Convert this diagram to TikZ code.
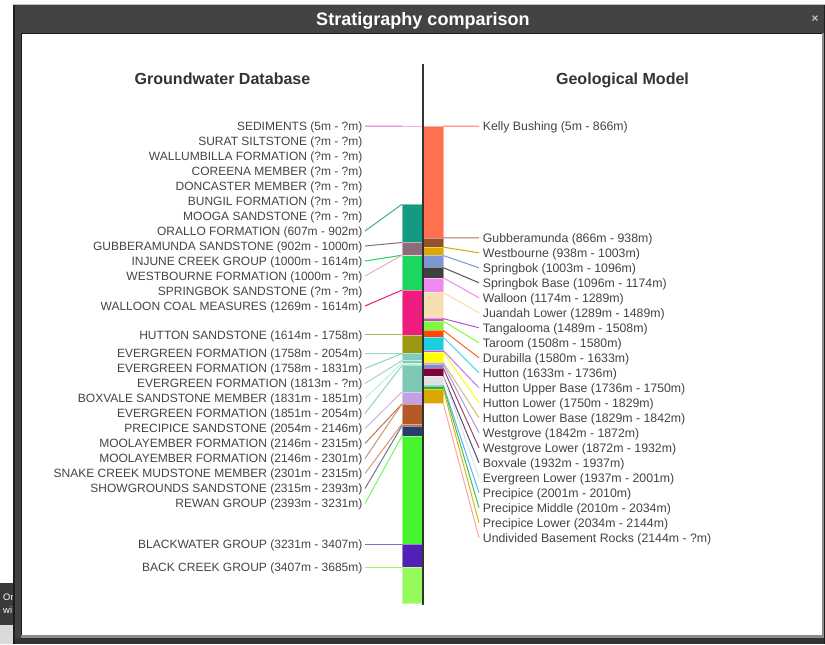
\documentclass[tikz,border=0pt]{standalone}
\usepackage{fontspec}
\setmainfont{Liberation Sans}
\usetikzlibrary{positioning}
\newcommand{\depy}[1]{125.5+0.1297*#1}
% window
\definecolor{winDark}{HTML}{434343}
\definecolor{winEdge}{HTML}{1E1E1E}
\definecolor{tipDark}{HTML}{3A3A3A}
\definecolor{txtGray}{HTML}{444444}
\definecolor{hdrGray}{HTML}{333333}
\definecolor{axisGray}{HTML}{333333}
% groundwater database
\definecolor{cSed}{HTML}{F060D0}
\definecolor{cOra}{HTML}{139A80}
\definecolor{cGubS}{HTML}{8D6E78}
\definecolor{cInj}{HTML}{1BD760}
\definecolor{cWesF}{HTML}{F0A8C8}
\definecolor{cWalCM}{HTML}{EE1C7E}
\definecolor{cHutS}{HTML}{9B9713}
\definecolor{cEvgA}{HTML}{7DC9B5}
\definecolor{cEvgB}{HTML}{80CCB8}
\definecolor{cEvgC}{HTML}{9ED8C8}
\definecolor{cBoxM}{HTML}{B8F2DA}
\definecolor{cEvgD}{HTML}{7DC9B5}
\definecolor{cPreS}{HTML}{C3A0E3}
\definecolor{cMooA}{HTML}{B0531F}
\definecolor{cMooB}{HTML}{B45A28}
\definecolor{cSnk}{HTML}{C86A38}
\definecolor{cShw}{HTML}{283E6C}
\definecolor{cRew}{HTML}{46F52E}
\definecolor{cBlk}{HTML}{5320B5}
\definecolor{cBck}{HTML}{96FA5C}
% geological model
\definecolor{cKel}{HTML}{FF7050}
\definecolor{cGub}{HTML}{98502C}
\definecolor{cWes}{HTML}{DDA800}
\definecolor{cSpr}{HTML}{7B96D2}
\definecolor{cSprB}{HTML}{404040}
\definecolor{cWal}{HTML}{F08AF0}
\definecolor{cJua}{HTML}{F6DEB2}
\definecolor{cTan}{HTML}{C050C8}
\definecolor{cTar}{HTML}{80F840}
\definecolor{cDur}{HTML}{FF4800}
\definecolor{cHut}{HTML}{1ACFE0}
\definecolor{cHutU}{HTML}{B060E0}
\definecolor{cHutL}{HTML}{FFFF00}
\definecolor{cHutLB}{HTML}{D4B880}
\definecolor{cWgr}{HTML}{8A88C8}
\definecolor{cWgrL}{HTML}{800040}
\definecolor{cBox}{HTML}{505070}
\definecolor{cEvgL}{HTML}{E0E0E0}
\definecolor{cPre}{HTML}{40A8FF}
\definecolor{cPreM}{HTML}{20B820}
\definecolor{cPreL}{HTML}{DAA600}
\definecolor{cUnd}{HTML}{FFA898}

\begin{document}
\begin{tikzpicture}[
    x=0.03cm, y=-0.03cm,
    lblL/.style={anchor=east, inner xsep=0.07cm, inner ysep=0pt, text height=7.4pt, text depth=0pt, text=txtGray, font=\fontsize{10.25pt}{12pt}\selectfont},
    lblR/.style={lblL, anchor=west, inner xsep=0.11cm, text height=7.6pt, font=\fontsize{10.5pt}{12pt}\selectfont},
    hdr/.style={font=\bfseries\fontsize{13.7pt}{15pt}\selectfont, text=hdrGray, inner sep=0pt, text height=9.8pt, text depth=0pt},
    lay/.style 2 args={rectangle, inner sep=0pt, outer sep=0pt, anchor=north west, minimum width=0.6cm, minimum height={0.1297*(#2-#1)*0.03cm}, line width=0.015cm},
    con/.style={line width=0.03cm}
]
\useasboundingbox (0,0) rectangle (825,644);
\fill[white] (0,0) rectangle (825,644);

% tooltip behind the dialog
\fill[tipDark] (0,583) rectangle (13,625);
\fill[black!15] (0,625) rectangle (13,644);
\node[anchor=west, inner sep=0pt, text=white, font=\fontsize{8pt}{9pt}\selectfont] (tipA) at (3,597) {Or};
\node[anchor=west, inner sep=0pt, text=white, font=\fontsize{8pt}{9pt}\selectfont] (tipB) at (3,610) {wi};

% dialog window
\fill[winEdge] (13,4) rectangle (825,644);
\draw[black!25, line width=0.03cm] (13,4.5) -- (825,4.5);
\fill[winDark] (15,5) rectangle (823.5,644);
\fill[black!80] (15,638) rectangle (823.5,644);
\fill[black!45] (21,33) rectangle (823.5,638);
\fill[black!90] (21,33) rectangle (822,635);
\fill[white] (22,34) rectangle (822,635);

\node[font=\bfseries\fontsize{15.4pt}{17pt}\selectfont, text=white, inner sep=0pt, text height=11pt, text depth=0pt] (title) at (423,19.5) {Stratigraphy comparison};
\node[font=\bfseries\fontsize{10pt}{11pt}\selectfont, text=black!22, inner sep=0pt] (close) at (815,19) {×};

\node[hdr] (gwHead) at (222.5,79) {Groundwater Database};
\node[hdr] (gmHead) at (622.5,79) {Geological Model};

% groundwater database column
\node[lay={5}{5}, fill=cSed, draw=cSed!55!white] (bSed) at (402,{\depy{5}}) {};
\node[lay={607}{902}, fill=cOra, draw=cOra!55!white] (bOra) at (402,{\depy{607}}) {};
\node[lay={902}{1000}, fill=cGubS, draw=cGubS!55!white] (bGubS) at (402,{\depy{902}}) {};
\node[lay={1000}{1614}, fill=cInj, draw=cInj!55!white] (bInj) at (402,{\depy{1000}}) {};
\node[lay={1000}{1000}, fill=cWesF, draw=cWesF!55!white] (bWesF) at (402,{\depy{1000}}) {};
\node[lay={1269}{1614}, fill=cWalCM, draw=cWalCM!55!white] (bWalCM) at (402,{\depy{1269}}) {};
\node[lay={1614}{1758}, fill=cHutS, draw=cHutS!55!white] (bHutS) at (402,{\depy{1614}}) {};
\node[lay={1758}{2054}, fill=cEvgA, draw=cEvgA!55!white] (bEvgA) at (402,{\depy{1758}}) {};
\node[lay={1758}{1831}, fill=cEvgB, draw=cEvgB!55!white] (bEvgB) at (402,{\depy{1758}}) {};
\node[lay={1813}{1813}, fill=cEvgC, draw=cEvgC!55!white] (bEvgC) at (402,{\depy{1813}}) {};
\node[lay={1831}{1851}, fill=cBoxM, draw=cBoxM!55!white] (bBoxM) at (402,{\depy{1831}}) {};
\node[lay={1851}{2054}, fill=cEvgD, draw=cEvgD!55!white] (bEvgD) at (402,{\depy{1851}}) {};
\node[lay={2054}{2146}, fill=cPreS, draw=cPreS!55!white] (bPreS) at (402,{\depy{2054}}) {};
\node[lay={2146}{2315}, fill=cMooA, draw=cMooA!55!white] (bMooA) at (402,{\depy{2146}}) {};
\node[lay={2146}{2301}, fill=cMooB, draw=cMooB!55!white] (bMooB) at (402,{\depy{2146}}) {};
\node[lay={2301}{2315}, fill=cSnk, draw=cSnk!55!white] (bSnk) at (402,{\depy{2301}}) {};
\node[lay={2315}{2393}, fill=cShw, draw=cShw!55!white] (bShw) at (402,{\depy{2315}}) {};
\node[lay={2393}{3231}, fill=cRew, draw=cRew!55!white] (bRew) at (402,{\depy{2393}}) {};
\node[lay={3231}{3407}, fill=cBlk, draw=cBlk!55!white] (bBlk) at (402,{\depy{3231}}) {};
\node[lay={3407}{3685}, fill=cBck, draw=cBck!55!white] (bBck) at (402,{\depy{3407}}) {};

% geological model column
\node[lay={5}{866}, fill=cKel, draw=cKel!55!white] (bKel) at (423.3,{\depy{5}}) {};
\node[lay={866}{938}, fill=cGub, draw=cGub!55!white] (bGub) at (423.3,{\depy{866}}) {};
\node[lay={938}{1003}, fill=cWes, draw=cWes!55!white] (bWes) at (423.3,{\depy{938}}) {};
\node[lay={1003}{1096}, fill=cSpr, draw=cSpr!55!white] (bSpr) at (423.3,{\depy{1003}}) {};
\node[lay={1096}{1174}, fill=cSprB, draw=cSprB!55!white] (bSprB) at (423.3,{\depy{1096}}) {};
\node[lay={1174}{1289}, fill=cWal, draw=cWal!55!white] (bWal) at (423.3,{\depy{1174}}) {};
\node[lay={1289}{1489}, fill=cJua, draw=cJua!55!white] (bJua) at (423.3,{\depy{1289}}) {};
\node[lay={1489}{1508}, fill=cTan, draw=cTan!55!white] (bTan) at (423.3,{\depy{1489}}) {};
\node[lay={1508}{1580}, fill=cTar, draw=cTar!55!white] (bTar) at (423.3,{\depy{1508}}) {};
\node[lay={1580}{1633}, fill=cDur, draw=cDur!55!white] (bDur) at (423.3,{\depy{1580}}) {};
\node[lay={1633}{1736}, fill=cHut, draw=cHut!55!white] (bHut) at (423.3,{\depy{1633}}) {};
\node[lay={1736}{1750}, fill=cHutU, draw=cHutU!55!white] (bHutU) at (423.3,{\depy{1736}}) {};
\node[lay={1750}{1829}, fill=cHutL, draw=cHutL!55!white] (bHutL) at (423.3,{\depy{1750}}) {};
\node[lay={1829}{1842}, fill=cHutLB, draw=cHutLB!55!white] (bHutLB) at (423.3,{\depy{1829}}) {};
\node[lay={1842}{1872}, fill=cWgr, draw=cWgr!55!white] (bWgr) at (423.3,{\depy{1842}}) {};
\node[lay={1872}{1932}, fill=cWgrL, draw=cWgrL!55!white] (bWgrL) at (423.3,{\depy{1872}}) {};
\node[lay={1932}{1937}, fill=cBox, draw=cBox!55!white] (bBox) at (423.3,{\depy{1932}}) {};
\node[lay={1937}{2001}, fill=cEvgL, draw=cEvgL!55!white] (bEvgL) at (423.3,{\depy{1937}}) {};
\node[lay={2001}{2010}, fill=cPre, draw=cPre!55!white] (bPre) at (423.3,{\depy{2001}}) {};
\node[lay={2010}{2034}, fill=cPreM, draw=cPreM!55!white] (bPreM) at (423.3,{\depy{2010}}) {};
\node[lay={2034}{2144}, fill=cPreL, draw=cPreL!55!white] (bPreL) at (423.3,{\depy{2034}}) {};
\node[lay={2144}{2144}, fill=cUnd, draw=cUnd!55!white] (bUnd) at (423.3,{\depy{2144}}) {};

% axis between the columns
\coordinate (axisTop) at (422.7,64);
\coordinate (axisBot) at (422.7,605);
\draw[axisGray, line width=0.06cm] (axisTop) -- (axisBot);

% groundwater database labels
\node[lblL] (gwSed) at (365,126) {SEDIMENTS (5m - ?m)};
\node[lblL] (gwSur) at (365,141) {SURAT SILTSTONE (?m - ?m)};
\node[lblL] (gwWab) at (365,156) {WALLUMBILLA FORMATION (?m - ?m)};
\node[lblL] (gwCor) at (365,171) {COREENA MEMBER (?m - ?m)};
\node[lblL] (gwDon) at (365,186) {DONCASTER MEMBER (?m - ?m)};
\node[lblL] (gwBun) at (365,201) {BUNGIL FORMATION (?m - ?m)};
\node[lblL] (gwMoo) at (365,216) {MOOGA SANDSTONE (?m - ?m)};
\node[lblL] (gwOra) at (365,231) {ORALLO FORMATION (607m - 902m)};
\node[lblL] (gwGubS) at (365,246) {GUBBERAMUNDA SANDSTONE (902m - 1000m)};
\node[lblL] (gwInj) at (365,261) {INJUNE CREEK GROUP (1000m - 1614m)};
\node[lblL] (gwWesF) at (365,276) {WESTBOURNE FORMATION (1000m - ?m)};
\node[lblL] (gwSprS) at (365,291) {SPRINGBOK SANDSTONE (?m - ?m)};
\node[lblL] (gwWalCM) at (365,306) {WALLOON COAL MEASURES (1269m - 1614m)};
\node[lblL] (gwHutS) at (365,{\depy{1614}}) {HUTTON SANDSTONE (1614m - 1758m)};
\node[lblL] (gwEvgA) at (365,353.5) {EVERGREEN FORMATION (1758m - 2054m)};
\node[lblL] (gwEvgB) at (365,368.5) {EVERGREEN FORMATION (1758m - 1831m)};
\node[lblL] (gwEvgC) at (365,383.5) {EVERGREEN FORMATION (1813m - ?m)};
\node[lblL] (gwBoxM) at (365,398.5) {BOXVALE SANDSTONE MEMBER (1831m - 1851m)};
\node[lblL] (gwEvgD) at (365,413.5) {EVERGREEN FORMATION (1851m - 2054m)};
\node[lblL] (gwPreS) at (365,428.5) {PRECIPICE SANDSTONE (2054m - 2146m)};
\node[lblL] (gwMooA) at (365,443.5) {MOOLAYEMBER FORMATION (2146m - 2315m)};
\node[lblL] (gwMooB) at (365,458.5) {MOOLAYEMBER FORMATION (2146m - 2301m)};
\node[lblL] (gwSnk) at (365,473.5) {SNAKE CREEK MUDSTONE MEMBER (2301m - 2315m)};
\node[lblL] (gwShw) at (365,488.5) {SHOWGROUNDS SANDSTONE (2315m - 2393m)};
\node[lblL] (gwRew) at (365,503.5) {REWAN GROUP (2393m - 3231m)};
\node[lblL] (gwBlk) at (365,{\depy{3231}}) {BLACKWATER GROUP (3231m - 3407m)};
\node[lblL] (gwBck) at (365,{\depy{3407}}) {BACK CREEK GROUP (3407m - 3685m)};

\draw[con, cSed] (gwSed.east) -- (bSed.north west);
\draw[con, cOra!80!white] (gwOra.east) -- (bOra.north west);
\draw[con, cGubS] (gwGubS.east) -- (bGubS.north west);
\draw[con, cInj] (gwInj.east) -- (bInj.north west);
\draw[con, cWesF] (gwWesF.east) -- (bWesF.north west);
\draw[con, cWalCM] (gwWalCM.east) -- (bWalCM.north west);
\draw[con, cHutS!75!white] (gwHutS.east) -- (bHutS.north west);
\draw[con, cEvgA!75!white] (gwEvgA.east) -- (bEvgA.north west);
\draw[con, cEvgB!90!white] (gwEvgB.east) -- (bEvgB.north west);
\draw[con, cEvgC] (gwEvgC.east) -- (bEvgC.north west);
\draw[con, cBoxM] (gwBoxM.east) -- (bBoxM.north west);
\draw[con, cEvgD!85!white] (gwEvgD.east) -- (bEvgD.north west);
\draw[con, cPreS!80!white] (gwPreS.east) -- (bPreS.north west);
\draw[con, cMooA!80!white] (gwMooA.east) -- (bMooA.north west);
\draw[con, cMooB!65!white] (gwMooB.east) -- (bMooB.north west);
\draw[con, cSnk!70!white] (gwSnk.east) -- (bSnk.north west);
\draw[con, cShw!70!white] (gwShw.east) -- (bShw.north west);
\draw[con, cRew!75!white] (gwRew.east) -- (bRew.north west);
\draw[con, cBlk!70!white] (gwBlk.east) -- (bBlk.north west);
\draw[con, cBck] (gwBck.east) -- (bBck.north west);

% geological model labels
\node[lblR] (gmKel) at (479,126) {Kelly Bushing (5m - 866m)};
\node[lblR] (gmGub) at (479,237.8) {Gubberamunda (866m - 938m)};
\node[lblR] (gmWes) at (479,252.8) {Westbourne (938m - 1003m)};
\node[lblR] (gmSpr) at (479,267.8) {Springbok (1003m - 1096m)};
\node[lblR] (gmSprB) at (479,282.8) {Springbok Base (1096m - 1174m)};
\node[lblR] (gmWal) at (479,297.8) {Walloon (1174m - 1289m)};
\node[lblR] (gmJua) at (479,312.8) {Juandah Lower (1289m - 1489m)};
\node[lblR] (gmTan) at (479,327.8) {Tangalooma (1489m - 1508m)};
\node[lblR] (gmTar) at (479,342.8) {Taroom (1508m - 1580m)};
\node[lblR] (gmDur) at (479,357.8) {Durabilla (1580m - 1633m)};
\node[lblR] (gmHut) at (479,372.8) {Hutton (1633m - 1736m)};
\node[lblR] (gmHutU) at (479,387.8) {Hutton Upper Base (1736m - 1750m)};
\node[lblR] (gmHutL) at (479,402.8) {Hutton Lower (1750m - 1829m)};
\node[lblR] (gmHutLB) at (479,417.8) {Hutton Lower Base (1829m - 1842m)};
\node[lblR] (gmWgr) at (479,432.8) {Westgrove (1842m - 1872m)};
\node[lblR] (gmWgrL) at (479,447.8) {Westgrove Lower (1872m - 1932m)};
\node[lblR] (gmBox) at (479,462.8) {Boxvale (1932m - 1937m)};
\node[lblR] (gmEvgL) at (479,477.8) {Evergreen Lower (1937m - 2001m)};
\node[lblR] (gmPre) at (479,492.8) {Precipice (2001m - 2010m)};
\node[lblR] (gmPreM) at (479,507.8) {Precipice Middle (2010m - 2034m)};
\node[lblR] (gmPreL) at (479,522.8) {Precipice Lower (2034m - 2144m)};
\node[lblR] (gmUnd) at (479,537.8) {Undivided Basement Rocks (2144m - ?m)};

\draw[con, cKel] (bKel.north east) -- (gmKel.west);
\draw[con, cGub!80!white] (bGub.north east) -- (gmGub.west);
\draw[con, cWes] (bWes.north east) -- (gmWes.west);
\draw[con, cSpr] (bSpr.north east) -- (gmSpr.west);
\draw[con, cSprB!90!white] (bSprB.north east) -- (gmSprB.west);
\draw[con, cWal] (bWal.north east) -- (gmWal.west);
\draw[con, cJua] (bJua.north east) -- (gmJua.west);
\draw[con, cTan] (bTan.north east) -- (gmTan.west);
\draw[con, cTar] (bTar.north east) -- (gmTar.west);
\draw[con, cDur!85!white] (bDur.north east) -- (gmDur.west);
\draw[con, cHut!80!white] (bHut.north east) -- (gmHut.west);
\draw[con, cHutU!85!white] (bHutU.north east) -- (gmHutU.west);
\draw[con, cHutL] (bHutL.north east) -- (gmHutL.west);
\draw[con, cHutLB] (bHutLB.north east) -- (gmHutLB.west);
\draw[con, cWgr!80!white] (bWgr.north east) -- (gmWgr.west);
\draw[con, cWgrL!75!white] (bWgrL.north east) -- (gmWgrL.west);
\draw[con, cBox] (bBox.north east) -- (gmBox.west);
\draw[con, cEvgL] (bEvgL.north east) -- (gmEvgL.west);
\draw[con, cPre!85!white] (bPre.north east) -- (gmPre.west);
\draw[con, cPreM!85!white] (bPreM.north east) -- (gmPreM.west);
\draw[con, cPreL!85!white] (bPreL.north east) -- (gmPreL.west);
\draw[con, cUnd] (bUnd.north east) -- (gmUnd.west);

\end{tikzpicture}
\end{document}
